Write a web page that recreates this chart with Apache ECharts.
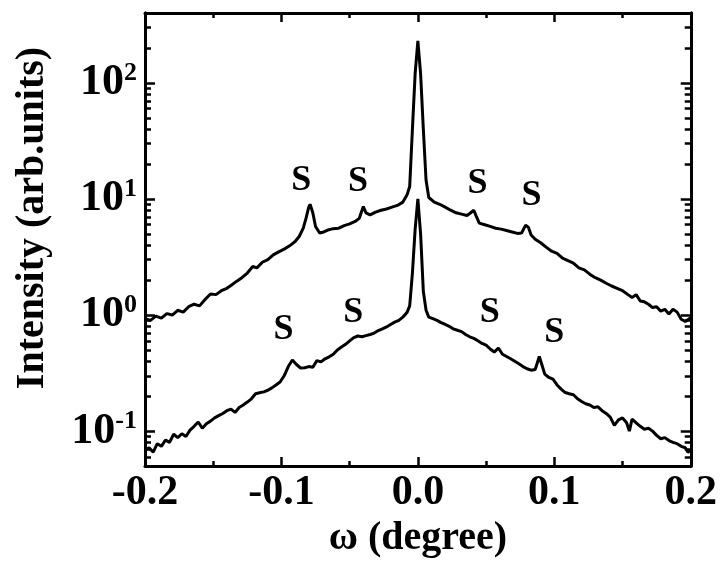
<!DOCTYPE html>
<html>
<head>
<meta charset="utf-8">
<script src="https://cdn.jsdelivr.net/npm/echarts@6/dist/echarts.min.js"></script>
<style>
  html, body { margin: 0; padding: 0; background: #fff; }
  #main { width: 720px; height: 564px; }
</style>
</head>
<body>
<div id="main"></div>
<script>
// upper curve
var upperX = [-0.200, -0.196, -0.192, -0.188, -0.184, -0.180, -0.176, -0.172, -0.168, -0.164,
  -0.160, -0.156, -0.152, -0.148, -0.144, -0.140, -0.137, -0.133, -0.129, -0.125,
  -0.121, -0.118, -0.114, -0.110, -0.106, -0.102, -0.098, -0.094, -0.090, -0.087,
  -0.084, -0.082, -0.080, -0.079, -0.077, -0.075, -0.072, -0.069, -0.066, -0.062,
  -0.058, -0.054, -0.050, -0.046, -0.043, -0.040, -0.038, -0.035, -0.031, -0.027,
  -0.023, -0.019, -0.015, -0.011, -0.008, -0.006, -0.004, -0.002, 0.000, 0.002,
  0.004, 0.006, 0.008, 0.012, 0.016, 0.020, 0.024, 0.028, 0.032, 0.036,
  0.038, 0.041, 0.043, 0.045, 0.049, 0.053, 0.057, 0.061, 0.065, 0.069,
  0.073, 0.076, 0.079, 0.081, 0.083, 0.086, 0.090, 0.094, 0.098, 0.102,
  0.106, 0.110, 0.114, 0.118, 0.122, 0.126, 0.130, 0.134, 0.138, 0.142,
  0.146, 0.150, 0.154, 0.157, 0.160, 0.163, 0.166, 0.169, 0.172, 0.175,
  0.178, 0.181, 0.184, 0.187, 0.190, 0.193, 0.196, 0.200];
var upperY = [0.93, 0.90, 0.98, 0.94, 1.03, 1.00, 1.10, 1.06, 1.18, 1.24,
  1.20, 1.36, 1.52, 1.50, 1.62, 1.70, 1.80, 1.95, 2.10, 2.30,
  2.62, 2.55, 2.85, 3.00, 3.30, 3.50, 3.70, 3.95, 4.30, 4.75,
  5.60, 6.80, 8.50, 9.0, 7.6, 5.8, 5.1, 5.2, 5.4, 5.55,
  5.6, 5.9, 6.1, 6.4, 6.8, 8.6, 7.6, 7.3, 7.7, 8.0,
  8.2, 8.5, 8.8, 9.4, 10.8, 12.8, 40, 120, 230, 120,
  40, 14.5, 10.3, 9.4, 9.0, 8.5, 8.0, 7.6, 7.4, 7.2,
  7.5, 8.0, 7.0, 6.2, 6.0, 5.8, 5.6, 5.5, 5.35, 5.2,
  5.05, 5.1, 5.95, 5.7, 4.9, 4.5, 4.2, 3.85, 3.55, 3.40,
  3.10, 2.95, 2.80, 2.55, 2.45, 2.25, 2.10, 2.00, 1.88, 1.78,
  1.70, 1.62, 1.50, 1.42, 1.50, 1.32, 1.30, 1.24, 1.16, 1.18,
  1.08, 1.12, 1.02, 1.12, 1.06, 0.92, 0.88, 0.95];

// lower curve
var lowerX = [-0.200, -0.197, -0.194, -0.191, -0.188, -0.185, -0.182, -0.179, -0.176, -0.173,
  -0.170, -0.167, -0.164, -0.161, -0.158, -0.155, -0.152, -0.149, -0.146, -0.143,
  -0.140, -0.137, -0.134, -0.131, -0.128, -0.125, -0.122, -0.119, -0.116, -0.113,
  -0.110, -0.107, -0.104, -0.101, -0.098, -0.095, -0.092, -0.089, -0.086, -0.083,
  -0.080, -0.077, -0.074, -0.071, -0.068, -0.065, -0.062, -0.059, -0.056, -0.053,
  -0.050, -0.047, -0.044, -0.041, -0.038, -0.035, -0.032, -0.029, -0.026, -0.023,
  -0.020, -0.017, -0.014, -0.011, -0.008, -0.006, -0.004, -0.002, 0.000, 0.002,
  0.004, 0.006, 0.008, 0.011, 0.014, 0.017, 0.020, 0.023, 0.026, 0.029,
  0.032, 0.035, 0.038, 0.041, 0.044, 0.047, 0.050, 0.053, 0.056, 0.059,
  0.062, 0.065, 0.068, 0.071, 0.074, 0.077, 0.080, 0.083, 0.086, 0.089,
  0.091, 0.093, 0.096, 0.099, 0.102, 0.105, 0.108, 0.111, 0.114, 0.117,
  0.120, 0.123, 0.126, 0.129, 0.132, 0.135, 0.138, 0.141, 0.144, 0.147,
  0.150, 0.153, 0.155, 0.157, 0.160, 0.163, 0.166, 0.169, 0.172, 0.175,
  0.178, 0.181, 0.184, 0.187, 0.190, 0.193, 0.196, 0.198, 0.200];
var lowerY = [0.068, 0.072, 0.066, 0.078, 0.074, 0.084, 0.080, 0.094, 0.088, 0.095,
  0.090, 0.102, 0.110, 0.120, 0.106, 0.116, 0.122, 0.130, 0.136, 0.142,
  0.150, 0.155, 0.145, 0.160, 0.168, 0.178, 0.190, 0.210, 0.214, 0.218,
  0.225, 0.236, 0.250, 0.265, 0.300, 0.360, 0.410, 0.375, 0.350, 0.352,
  0.360, 0.355, 0.405, 0.395, 0.420, 0.437, 0.460, 0.500, 0.530, 0.560,
  0.600, 0.640, 0.660, 0.650, 0.665, 0.680, 0.700, 0.735, 0.760, 0.790,
  0.830, 0.870, 0.900, 0.960, 1.05, 1.20, 2.3, 5.5, 10.0, 5.0,
  1.6, 1.10, 0.96, 0.93, 0.90, 0.86, 0.83, 0.80, 0.76, 0.74,
  0.72, 0.68, 0.65, 0.63, 0.60, 0.57, 0.55, 0.51, 0.48, 0.52,
  0.46, 0.44, 0.42, 0.40, 0.38, 0.36, 0.345, 0.335, 0.340, 0.440,
  0.370, 0.310, 0.290, 0.280, 0.250, 0.230, 0.215, 0.210, 0.206, 0.190,
  0.180, 0.172, 0.168, 0.160, 0.162, 0.150, 0.142, 0.132, 0.112, 0.125,
  0.130, 0.118, 0.100, 0.127, 0.118, 0.110, 0.104, 0.106, 0.100, 0.092,
  0.086, 0.088, 0.083, 0.080, 0.078, 0.074, 0.072, 0.066, 0.068];

// "S" satellite peak marks
var markX = [-0.0854, -0.0438, 0.0438, 0.0832, -0.0985, -0.0474, 0.0526, 0.1000];
var markY = [14.4, 14.1, 13.6, 10.7, 0.75, 1.05, 1.05, 0.71];

var xTicks = [-0.2, -0.1, 0.0, 0.1, 0.2];
var yMajor = [0.1, 1, 10, 100];
var yMinor = [0.05, 0.06, 0.07, 0.08, 0.09, 0.2, 0.3, 0.4, 0.5, 0.6, 0.7, 0.8, 0.9,
  2, 3, 4, 5, 6, 7, 8, 9, 20, 30, 40, 50, 60, 70, 80, 90, 200, 300, 400];

function pairs(xs, ys) {
  var out = [];
  for (var i = 0; i < xs.length; i++) {
    out.push([xs[i], ys[i]]);
  }
  return out;
}

var font = '"Liberation Serif", "Times New Roman", serif';
var black = '#000';

function xAxisCfg(pos, labels) {
  return {
    type: 'value', position: pos, min: xTicks[0], max: xTicks[xTicks.length - 1], interval: 0.1,
    axisLine: { show: true, onZero: false, lineStyle: { color: black, width: 3 } },
    axisTick: { show: true, inside: true, length: 9, lineStyle: { color: black, width: 2.5 } },
    minorTick: { show: true, splitNumber: 2, length: 5, lineStyle: { color: black, width: 2.5 } },
    splitLine: { show: false },
    axisLabel: {
      show: labels, margin: 6, color: black, fontFamily: font, fontWeight: 'bold', fontSize: 42,
      formatter: function (v) { return v.toFixed(1); }
    },
    name: labels ? 'ω (degree)' : '',
    nameLocation: 'middle', nameGap: 46,
    nameTextStyle: { color: black, fontFamily: font, fontWeight: 'bold', fontSize: 40 }
  };
}

function yAxisCfg(pos, ticks, len, labels) {
  return {
    type: 'log', logBase: 10, position: pos, min: 0.05, max: 400,
    axisLine: { show: true, onZero: false, lineStyle: { color: black, width: 3 } },
    axisTick: { show: true, inside: true, length: len, customValues: ticks,
      lineStyle: { color: black, width: 2.5 } },
    splitLine: { show: false },
    minorTick: { show: false },
    axisLabel: {
      show: labels, customValues: yMajor, margin: 8, color: black,
      formatter: function (v) {
        var e = Math.round(Math.log(v) / Math.LN10);
        return '{b|10}{s|' + e + '}';
      },
      rich: {
        b: { fontFamily: font, fontWeight: 'bold', fontSize: 44, lineHeight: 46, color: black },
        s: { fontFamily: font, fontWeight: 'bold', fontSize: 26, verticalAlign: 'top', color: black }
      }
    }
  };
}

var chart = echarts.init(document.getElementById('main'), null, { renderer: 'canvas' });
chart.setOption({
  animation: false,
  backgroundColor: '#fff',
  grid: { left: 145, right: 27, top: 13, bottom: 91, containLabel: false },
  xAxis: [xAxisCfg('bottom', true), xAxisCfg('top', false)],
  yAxis: [
    yAxisCfg('left', yMajor, 10, true),
    yAxisCfg('left', yMinor, 6, false),
    yAxisCfg('right', yMajor, 10, false),
    yAxisCfg('right', yMinor, 6, false)
  ],
  graphic: [{
    type: 'text', x: 33, y: 218, rotation: Math.PI / 2,
    style: {
      text: 'Intensity (arb.units)', fill: black, font: 'bold 40px ' + font,
      align: 'center', verticalAlign: 'middle'
    }
  }],
  series: [
    {
      type: 'line', data: pairs(upperX, upperY), showSymbol: false, symbol: 'none',
      lineStyle: { color: black, width: 3 }, z: 3
    },
    {
      type: 'line', data: pairs(lowerX, lowerY), showSymbol: false, symbol: 'none',
      lineStyle: { color: black, width: 3 }, z: 3
    },
    {
      type: 'scatter', data: pairs(markX, markY), symbol: 'circle', symbolSize: 0.1,
      itemStyle: { color: black, opacity: 1 },
      label: {
        show: true, position: 'inside', formatter: 'S', color: black, opacity: 1,
        fontFamily: font, fontWeight: 'bold', fontSize: 36
      }
    }
  ]
});
</script>
</body>
</html>
